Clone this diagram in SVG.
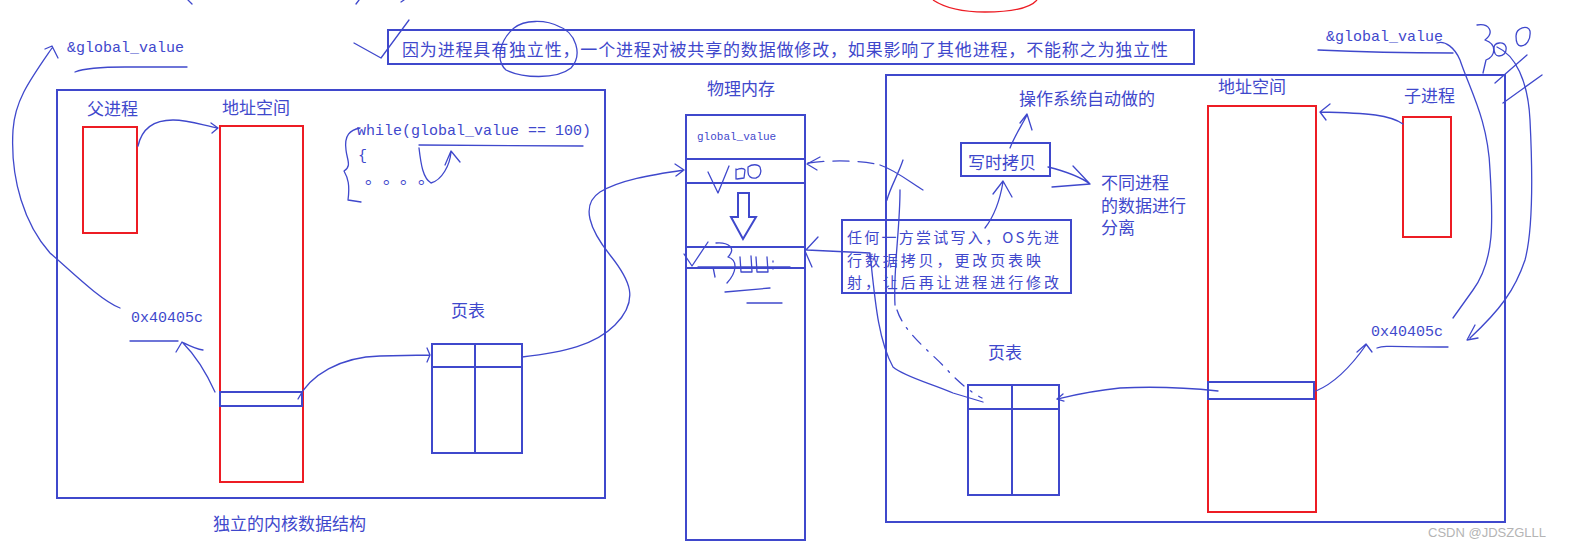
<svg xmlns="http://www.w3.org/2000/svg" width="1570" height="548" viewBox="0 0 1570 548">
<style>
.bx{fill:none;stroke:#3f48cc;stroke-width:2}
.rd{fill:none;stroke:#ed1c24;stroke-width:2}
.hw{fill:none;stroke:#3f48cc;stroke-width:1.3;stroke-linecap:round;stroke-linejoin:round}
.cn{font-family:"Noto Sans CJK SC","Noto Sans",sans-serif;font-size:17px;fill:#3f48cc}
.cs{font-family:"Noto Sans CJK SC","Noto Sans",sans-serif;font-size:15px;fill:#3f48cc}
.mo{font-family:"Liberation Mono","DejaVu Sans Mono",monospace;font-size:15px;fill:#3f48cc}
</style>
<rect width="1570" height="548" fill="#ffffff"/>

<g id="scribbles">
<path class="hw" d="M188,0 L192,4"/>
<path class="hw" d="M356,4 L359,0"/>
<path class="hw" d="M401,2 L404,0"/>
<path fill="none" stroke="#ed1c24" stroke-width="1.3" d="M933,0 C945,8 965,12 985,12 C1010,12 1030,8 1037,0"/>
<path class="hw" d="M354,43 L381,58 L409,20"/>
<path class="hw" d="M558,26 C576,32 583,55 571,68 C556,80 522,78 506,70 C495,60 500,40 514,28 C524,20 545,19 560,27"/>
</g>

<g id="top-note">
<rect class="bx" x="388" y="30" width="806" height="34"/>
<text class="cn" x="402" y="56" textLength="766" lengthAdjust="spacing">因为进程具有独立性，一个进程对被共享的数据做修改，如果影响了其他进程，不能称之为独立性</text>
</g>

<g id="parent-kernel">
<rect class="bx" x="57" y="90" width="548" height="408"/>
<text class="cn" x="213" y="530">独立的内核数据结构</text>
</g>
<g id="parent-process">
<text class="cn" x="87" y="115">父进程</text>
<rect class="rd" x="83" y="127" width="54" height="106"/>
</g>
<g id="parent-address-space">
<text class="cn" x="222" y="114">地址空间</text>
<rect class="rd" x="220" y="126" width="83" height="356"/>
<rect class="bx" x="220" y="392" width="82" height="14"/>
</g>
<g id="parent-code">
<text class="mo" x="357" y="135">while(global_value == 100)</text>
<text class="mo" x="358" y="160">{</text>
<text class="cn" x="365 383 400 418" y="184">。。。。</text>
<path class="hw" d="M360,128 C350,130 344,135 346,150 C347,160 352,166 344,171 C348,178 350,185 348,200 L361,202"/>
<path class="hw" d="M419,145 L583,146"/>
</g>
<g id="parent-address">
<text class="mo" x="131" y="322">0x40405c</text>
<path class="hw" d="M130,341 L178,341"/>
</g>
<g id="parent-global">
<text class="mo" x="67" y="52">&amp;global_value</text>
<path class="hw" d="M75,72 C85,68 100,67 125,67 L187,67"/>
</g>
<g id="parent-page-table">
<text class="cn" x="451" y="317">页表</text>
<rect class="bx" x="432" y="344" width="90" height="109"/>
<path class="bx" d="M475,344 V453 M432,367 H522"/>
</g>

<g id="physical-memory">
<text class="cn" x="707" y="95">物理内存</text>
<rect class="bx" x="686" y="115" width="119" height="425"/>
<path class="bx" d="M686,159 H805 M686,183 H805 M686,247 H805 M686,268 H805"/>
<text x="697" y="140" font-family="Liberation Mono,monospace" font-size="11" fill="#3f48cc">global_value</text>
<polygon points="738,193 749,193 749,217 756,217 743,239 731,217 738,217" fill="none" stroke="#3f48cc" stroke-width="2" stroke-linejoin="miter"/>
<path class="hw" d="M708,172 L718,193 L729,166 M736,169 L736,179 M736,170 C740,168 744,168 745,170 L744,178 L737,179 M748,167 C752,164 758,164 760,167 C762,172 760,177 756,178 C751,179 748,176 748,172 Z"/>
<path class="hw" d="M684,254 L692,266 L708,242 M716,243 C728,242 737,248 728,257 C738,260 737,272 727,283 M713,267 L715,277 M740,257 L741,272 L752,272 L751,256 M756,257 L757,272 L768,272 L767,257 M773,261 L773,262 M773,268 L773,269 M698,267 L790,267"/>
<path class="hw" d="M725,292 L770,288 M747,303 L782,303"/>
</g>

<g id="child-kernel">
<rect class="bx" x="886" y="75" width="619" height="447"/>
</g>
<g id="child-address-space">
<text class="cn" x="1218" y="93">地址空间</text>
<rect class="rd" x="1208" y="106" width="108" height="406"/>
<rect class="bx" x="1208" y="382" width="106" height="17"/>
</g>
<g id="child-process">
<text class="cn" x="1404" y="102">子进程</text>
<rect class="rd" x="1403" y="117" width="48" height="120"/>
</g>
<g id="child-address">
<text class="mo" x="1371" y="336">0x40405c</text>
<path class="hw" d="M1377,348 C1385,345 1395,347 1448,347"/>
</g>
<g id="child-global">
<text class="mo" x="1326" y="41">&amp;global_value</text>
<path class="hw" d="M1318,50 C1360,52 1400,53 1453,53"/>
</g>
<g id="child-page-table">
<text class="cn" x="988" y="359">页表</text>
<rect class="bx" x="968" y="385" width="91" height="110"/>
<path class="bx" d="M1012,385 V495 M967,409 H1059"/>
</g>
<g id="copy-on-write">
<rect class="bx" x="961" y="143" width="89" height="33"/>
<text class="cn" x="968" y="169">写时拷贝</text>
</g>
<g id="os-auto">
<text class="cn" x="1019" y="105">操作系统自动做的</text>
</g>
<g id="separate">
<text class="cn" x="1101" y="189">不同进程</text>
<text class="cn" x="1101" y="212">的数据进行</text>
<text class="cn" x="1101" y="234">分离</text>
</g>
<g id="write-note">
<rect class="bx" x="842" y="220" width="229" height="73" fill="#ffffff"/>
<text class="cs" x="847" y="243" textLength="212" lengthAdjust="spacing">任何一方尝试写入，OS先进</text>
<text class="cs" x="847" y="266" textLength="194" lengthAdjust="spacing">行数据拷贝，更改页表映</text>
<text class="cs" x="847" y="288" textLength="212" lengthAdjust="spacing">射，让后再让进程进行修改</text>
</g>

<g id="connectors">
<path class="hw" d="M138,146 C142,128 155,120 173,120 C190,120 205,126 218,128 M211,123 L218,128 L212,133"/>
<path class="hw" d="M298,399 C310,375 340,357 380,356 L429,355 M427,348 L430,355 L427,362"/>
<path class="hw" d="M522,357 C565,352 595,345 615,325 C640,300 630,280 610,255 C590,230 580,205 600,192 C620,180 650,175 684,170 M675,164 L684,170 L676,176"/>
<path class="hw" d="M120,308 C100,300 70,270 50,253 C25,225 10,180 13,130 C15,100 30,80 52,48 M45,49 L52,46 L58,58"/>
<path class="hw" d="M215,392 C205,370 195,355 183,343 M176,352 L182,342 C188,345 195,349 203,350"/>
<path class="hw" d="M419,148 C421,165 423,178 431,183 C442,180 450,165 451,152 M445,165 L451,151 L460,162"/>
<path class="hw" stroke-dasharray="16 9" d="M808,163 C830,160 860,160 880,165"/>
<path class="hw" d="M880,165 C895,170 910,182 923,190 M903,160 C898,175 890,188 887,200 M820,157 L807,164 L817,170"/>
<path class="hw" d="M900,190 C900,230 893,270 895,305"/>
<path class="hw" stroke-dasharray="12 8 2 8" d="M897,310 C905,335 935,355 950,373 C962,385 972,393 982,398"/>
<path class="hw" d="M807,250 L870,253 C875,300 878,340 893,367 C905,377 930,383 953,393 L983,402 M818,237 L805,251 L812,267"/>
<path class="hw" d="M1218,391 C1190,388 1160,386 1120,388 C1090,391 1070,396 1057,399 M1063,394 L1057,399 L1064,401"/>
<path class="hw" d="M1316,391 C1335,383 1352,365 1366,345 M1357,352 L1366,344 L1372,352"/>
<path class="hw" d="M1403,124 C1390,115 1370,113 1320,112 M1330,104 L1320,112 L1326,120"/>
<path class="hw" d="M1437,43 C1445,40 1455,48 1460,60 C1470,90 1488,120 1490,170 C1493,220 1495,260 1473,290 L1453,318"/>
<path class="hw" d="M1497,47 C1515,55 1528,80 1530,120 C1533,180 1533,230 1525,260 C1515,290 1500,310 1470,338 M1475,325 L1467,340 L1478,338"/>
<path class="hw" d="M985,228 C995,215 1000,200 1003,182 M993,194 L1003,181 L1012,197"/>
<path class="hw" d="M1010,148 C1015,135 1022,125 1027,115 M1020,123 L1027,114 L1032,130"/>
<path class="hw" d="M1048,167 C1060,170 1078,175 1090,184 M1073,166 L1090,184 L1052,187"/>
<path class="hw" d="M1477,25 C1489,23 1495,32 1485,40 C1497,44 1496,56 1486,60 L1483,73 M1494,48 C1494,42 1504,41 1506,47 C1507,53 1503,56 1499,56 C1495,56 1494,52 1494,48 Z M1516,36 C1516,28 1528,24 1530,31 C1531,40 1526,46 1521,46 C1517,46 1516,42 1516,36 Z M1495,83 L1527,55 M1503,103 L1542,75"/>
</g>

<text x="1428" y="537" font-family="Liberation Sans,Arial,sans-serif" font-size="13" fill="#b4b4b4">CSDN @JDSZGLLL</text>
</svg>
